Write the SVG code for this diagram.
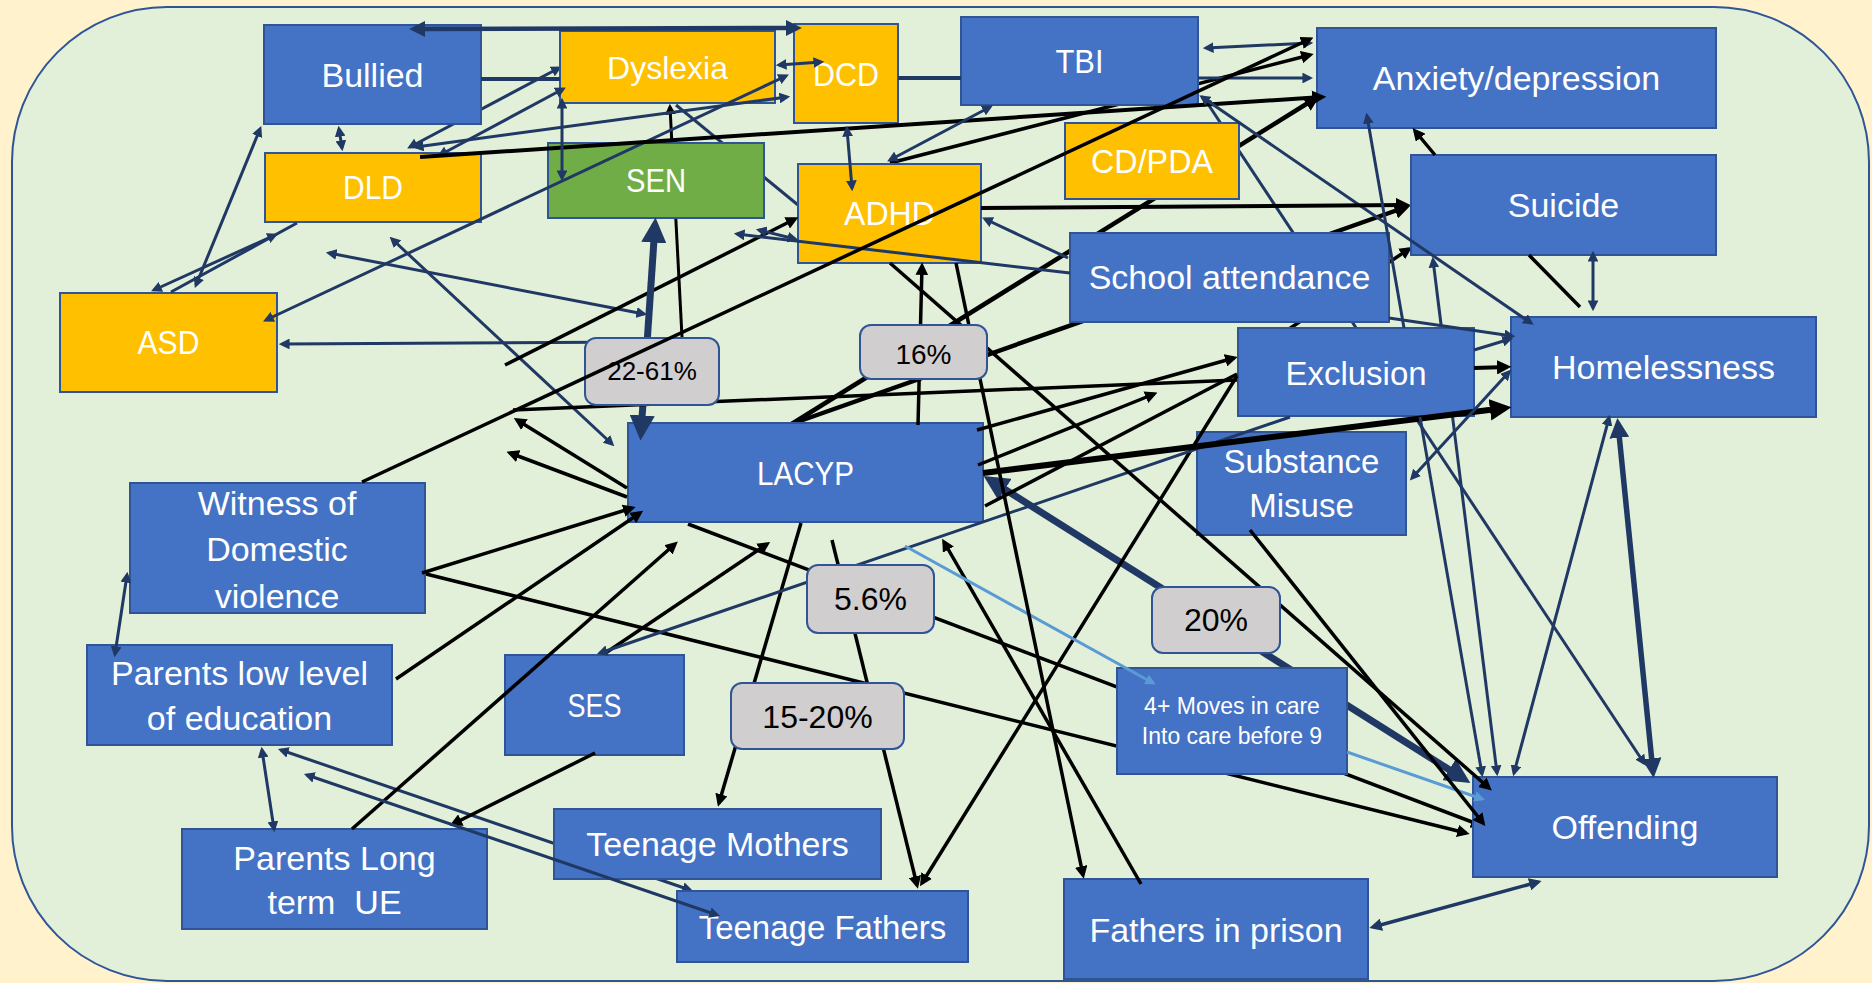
<svg xmlns="http://www.w3.org/2000/svg" width="1872" height="983" viewBox="0 0 1872 983">
<style>
.bx{fill:#4472C4;stroke:#2F5597;stroke-width:2}
.yl{fill:#FFC000;stroke:#2F5597;stroke-width:2}
.gr{fill:#70AD47;stroke:#2F5597;stroke-width:2}
.lb{fill:#D0CECE;stroke:#2F5597;stroke-width:2}
.t{font-family:"Liberation Sans",Arial,sans-serif;font-size:34px;fill:#fff;text-anchor:middle}
.c{font-size:34px}
.s{font-size:23px}
.p{fill:#000}
.n{stroke:#203864;stroke-width:3;fill:none}
.k{stroke:#000;stroke-width:3.5;fill:none}
.l{stroke:#5B9BD5;stroke-width:3;fill:none}
.w4{stroke-width:4.5}
.w5{stroke-width:5.5}
.w7{stroke-width:7}
.ne{marker-end:url(#an)}
.nb{marker-start:url(#an);marker-end:url(#an)}
.ke{marker-end:url(#ak)}
.le{marker-end:url(#al)}
</style>
<defs>
<marker id="an" viewBox="0 0 10 10" refX="7" refY="5" markerWidth="3.6" markerHeight="3.6" orient="auto-start-reverse" markerUnits="strokeWidth"><path d="M0,0L10,5L0,10z" fill="#203864"/></marker>
<marker id="ak" viewBox="0 0 10 10" refX="7" refY="5" markerWidth="3.6" markerHeight="3.6" orient="auto-start-reverse" markerUnits="strokeWidth"><path d="M0,0L10,5L0,10z" fill="#000"/></marker>
<marker id="al" viewBox="0 0 10 10" refX="7" refY="5" markerWidth="3.6" markerHeight="3.6" orient="auto-start-reverse" markerUnits="strokeWidth"><path d="M0,0L10,5L0,10z" fill="#5B9BD5"/></marker>
</defs>

<!-- page and panel -->
<rect x="0" y="0" width="1872" height="983" fill="#FFF2CC"/>
<rect x="12" y="7" width="1857" height="974" rx="155" ry="155" fill="#E2F0D9" stroke="#2F5597" stroke-width="2"/>

<!-- connectors that run beneath the boxes -->
<g id="edges-under">
<line class="n nb" x1="410" y1="147" x2="559" y2="68"/>
<line class="n" x1="676" y1="105" x2="798" y2="205"/>
<line class="k ke" style="stroke-width:3" x1="682" y1="337" x2="670" y2="107"/>
<line class="k ke" x1="890" y1="163" x2="1310" y2="55"/>
<line class="k ke w4" x1="790" y1="425" x2="1316" y2="98"/>
<line class="k ke w4" x1="783" y1="427" x2="1406" y2="207"/>
<line class="n nb" x1="1204" y1="98" x2="1644" y2="763"/>
<line class="n nb" x1="1433" y1="260" x2="1497" y2="773"/>
<line class="k ke" x1="688" y1="524" x2="1480" y2="825"/>
<line class="k ke" x1="422" y1="573" x2="1466" y2="833"/>
<line class="n nb w7" x1="990" y1="480" x2="1464" y2="779"/>
<line class="k ke" x1="1250" y1="355" x2="1409" y2="249"/>
<line class="n nb" x1="281" y1="750" x2="690" y2="890"/>
</g>

<!-- boxes -->
<g id="node-bullied"><rect class="bx" x="264" y="25" width="217" height="99"/><text class="t" x="372.5" y="87">Bullied</text></g>
<g id="node-dyslexia"><rect class="yl" x="560" y="31" width="215" height="72"/><text class="t" style="font-size:32px" x="667.5" y="79">Dyslexia</text></g>
<g id="node-dcd"><rect class="yl" x="794" y="24" width="104" height="99"/><text class="t c" x="846" y="86" textLength="66" lengthAdjust="spacingAndGlyphs">DCD</text></g>
<g id="node-tbi"><rect class="bx" x="961" y="17" width="237" height="88"/><text class="t c" x="1079.5" y="73" textLength="48" lengthAdjust="spacingAndGlyphs">TBI</text></g>
<g id="node-anxiety"><rect class="bx" x="1317" y="28" width="399" height="100"/><text class="t" x="1516.5" y="90">Anxiety/depression</text></g>
<g id="node-sen"><rect class="gr" x="548" y="143" width="216" height="75"/><text class="t c" x="656" y="192" textLength="60" lengthAdjust="spacingAndGlyphs">SEN</text></g>
<g id="node-dld"><rect class="yl" x="265" y="153" width="216" height="69"/><text class="t c" x="373" y="199" textLength="60" lengthAdjust="spacingAndGlyphs">DLD</text></g>
<g id="node-adhd"><rect class="yl" x="798" y="164" width="183" height="99"/><text class="t c" x="889.5" y="225" textLength="91" lengthAdjust="spacingAndGlyphs">ADHD</text></g>
<g id="node-cdpda"><rect class="yl" x="1065" y="123" width="174" height="76"/><text class="t c" x="1152" y="173" textLength="122" lengthAdjust="spacingAndGlyphs">CD/PDA</text></g>
<g id="node-suicide"><rect class="bx" x="1411" y="155" width="305" height="100"/><text class="t" x="1563.5" y="217">Suicide</text></g>
<g id="node-school"><rect class="bx" x="1070" y="233" width="319" height="89"/><text class="t" x="1229.5" y="289">School attendance</text></g>
<g id="node-asd"><rect class="yl" x="60" y="293" width="217" height="99"/><text class="t c" x="168.5" y="354" textLength="62" lengthAdjust="spacingAndGlyphs">ASD</text></g>
<g id="node-homelessness"><rect class="bx" x="1511" y="317" width="305" height="100"/><text class="t" x="1663.5" y="379">Homelessness</text></g>
<g id="node-exclusion"><rect class="bx" x="1238" y="328" width="236" height="88"/><text class="t" style="font-size:33px" x="1356" y="385">Exclusion</text></g>
<g id="node-substance"><rect class="bx" x="1197" y="432" width="209" height="103"/><text class="t" style="font-size:33px" x="1301.5" y="473">Substance</text><text class="t" style="font-size:33px" x="1301.5" y="517">Misuse</text></g>
<g id="node-lacyp"><rect class="bx" x="628" y="423" width="355" height="99"/><text class="t c" x="805.5" y="485" textLength="97" lengthAdjust="spacingAndGlyphs">LACYP</text></g>
<g id="node-witness"><rect class="bx" x="130" y="483" width="295" height="130"/><text class="t" x="277" y="515">Witness of</text><text class="t" x="277" y="561">Domestic</text><text class="t" x="277" y="608">violence</text></g>
<g id="node-parents-education"><rect class="bx" x="87" y="645" width="305" height="100"/><text class="t" x="239.5" y="685">Parents low level</text><text class="t" x="239.5" y="730">of education</text></g>
<g id="node-ses"><rect class="bx" x="505" y="655" width="179" height="100"/><text class="t c" x="594.5" y="717" textLength="54" lengthAdjust="spacingAndGlyphs">SES</text></g>
<g id="node-parents-ue"><rect class="bx" x="182" y="829" width="305" height="100"/><text class="t" x="334.5" y="870">Parents Long</text><text class="t" x="334.5" y="914" xml:space="preserve" style="white-space:pre">term  UE</text></g>
<g id="node-teen-mothers"><rect class="bx" x="554" y="809" width="327" height="70"/><text class="t" x="717.5" y="856">Teenage Mothers</text></g>
<g id="node-teen-fathers"><rect class="bx" x="677" y="891" width="291" height="71"/><text class="t" style="font-size:33px" x="822.5" y="939">Teenage Fathers</text></g>
<g id="node-fathers-prison"><rect class="bx" x="1064" y="879" width="304" height="100"/><text class="t" x="1216" y="942">Fathers in prison</text></g>
<g id="node-moves"><rect class="bx" x="1117" y="668" width="230" height="106"/><text class="t s" x="1232" y="714">4+ Moves in care</text><text class="t s" x="1232" y="744">Into care before 9</text></g>
<g id="node-offending"><rect class="bx" x="1473" y="777" width="304" height="100"/><text class="t" x="1625" y="839">Offending</text></g>

<!-- connectors drawn over the boxes -->
<g id="edges">
<line class="n nb w4" x1="414" y1="29" x2="797" y2="28"/>
<line class="n" style="stroke-width:4" x1="481" y1="79" x2="560" y2="79"/>
<line class="n nb" x1="440" y1="155" x2="563" y2="89"/>
<line class="n nb" x1="416" y1="147" x2="787" y2="97"/>
<line class="n nb" x1="266" y1="320" x2="786" y2="76"/>
<line class="k ke" style="stroke-width:4" x1="420" y1="157" x2="1322" y2="97"/>
<line class="n nb" x1="339" y1="129" x2="342" y2="148"/>
<line class="n nb" x1="562" y1="101" x2="562" y2="178"/>
<line class="n nb" x1="196" y1="285" x2="260" y2="129"/>
<line class="n nb" x1="154" y1="290" x2="275" y2="235"/>
<line class="n" x1="171" y1="292" x2="297" y2="223"/>
<line class="n nb" x1="329" y1="253" x2="644" y2="314"/>
<line class="n nb" x1="392" y1="239" x2="612" y2="444"/>
<line class="n ne" x1="640" y1="342" x2="282" y2="344"/>
<line class="k ke" x1="505" y1="365" x2="795" y2="219"/>
<line class="n nb w7" x1="655" y1="225" x2="641" y2="433"/>
<line class="k" x1="513" y1="410" x2="1237" y2="380"/>
<line class="k ke" x1="627" y1="488" x2="517" y2="420"/>
<line class="k ke" x1="627" y1="497" x2="510" y2="453"/>
<line class="k ke" x1="422" y1="573" x2="632" y2="508"/>
<line class="k ke" x1="396" y1="679" x2="640" y2="513"/>
<line class="k ke" x1="352" y1="829" x2="675" y2="544"/>
<line class="k ke" x1="607" y1="652" x2="767" y2="544"/>
<line class="k ke" x1="595" y1="753" x2="453" y2="824"/>
<line class="n nb" x1="127" y1="575" x2="115" y2="654"/>
<line class="n nb" x1="262" y1="750" x2="274" y2="829"/>
<line class="n nb" x1="307" y1="775" x2="717" y2="915"/>
<line class="k ke" x1="801" y1="523" x2="719" y2="803"/>
<line class="k ke" x1="832" y1="540" x2="917" y2="885"/>
<line class="k ke" x1="1237" y1="376" x2="922" y2="883"/>
<line class="k ke" x1="1141" y1="884" x2="944" y2="542"/>
<line class="n ne" x1="1290" y1="417" x2="600" y2="653"/>
<line class="l le" x1="905" y1="546" x2="1153" y2="683"/>
<line class="l le" x1="1347" y1="752" x2="1482" y2="799"/>
<line class="k ke" x1="977" y1="430" x2="1234" y2="358"/>
<line class="k ke" x1="978" y1="465" x2="1154" y2="394"/>
<line class="k" x1="985" y1="506" x2="1237" y2="374"/>
<line class="k ke" style="stroke-width:6" x1="983" y1="473" x2="1505" y2="408"/>
<line class="k ke" style="stroke-width:4" x1="1474" y1="368" x2="1507" y2="367"/>
<line class="n ne" x1="1474" y1="350" x2="1510" y2="339"/>
<line class="n ne" x1="1389" y1="318" x2="1512" y2="336"/>
<line class="n nb" x1="1412" y1="478" x2="1509" y2="372"/>
<line class="n nb" x1="1609" y1="418" x2="1514" y2="773"/>
<line class="n nb w5" x1="1618" y1="424" x2="1653" y2="772"/>
<line class="n nb" x1="1593" y1="254" x2="1593" y2="308"/>
<line class="k" x1="1529" y1="255" x2="1580" y2="307"/>
<line class="k ke" x1="1435" y1="155" x2="1415" y2="131"/>
<line class="n nb" x1="1206" y1="48" x2="1310" y2="43"/>
<line class="n ne" x1="1198" y1="78" x2="1310" y2="78"/>
<line class="n nb" x1="1202" y1="97" x2="1531" y2="323"/>
<line class="k ke" style="stroke-width:4" x1="981" y1="208" x2="1406" y2="205"/>
<line class="n ne" x1="1068" y1="258" x2="985" y2="219"/>
<line class="n ne" x1="1070" y1="273" x2="737" y2="234"/>
<line class="n nb" x1="759" y1="230" x2="795" y2="239"/>
<line class="n nb" x1="847" y1="129" x2="852" y2="188"/>
<line class="n nb" x1="990" y1="107" x2="890" y2="160"/>
<line class="n nb" x1="779" y1="65" x2="821" y2="62"/>
<line class="n" style="stroke-width:4" x1="898" y1="78" x2="961" y2="78"/>
<line class="k ke" x1="918" y1="425" x2="922" y2="266"/>
<line class="k ke" x1="1250" y1="530" x2="1483" y2="823"/>
<line class="n nb" style="stroke-width:3.5" x1="1538" y1="882" x2="1373" y2="927"/>
<line class="n ne" x1="1404" y1="328" x2="1367" y2="116"/>
<line class="n ne" x1="1420" y1="417" x2="1482" y2="774"/>
<line class="k ke" x1="890" y1="263" x2="1489" y2="788"/>
<line class="k ke" x1="956" y1="263" x2="1083" y2="875"/>
</g>

<!-- percentage tags -->
<g id="tag-22-61"><rect class="lb" x="585" y="338" width="134" height="67" rx="11"/><text class="t p" style="font-size:26px" x="652" y="380">22-61%</text></g>
<g id="tag-16"><rect class="lb" x="860" y="325" width="127" height="54" rx="11"/><text class="t p" style="font-size:28px" x="923.5" y="364">16%</text></g>
<g id="tag-5-6"><rect class="lb" x="807" y="565" width="127" height="68" rx="11"/><text class="t p" style="font-size:32px" x="870.5" y="610">5.6%</text></g>
<g id="tag-15-20"><rect class="lb" x="731" y="683" width="173" height="66" rx="11"/><text class="t p" style="font-size:32px" x="817.5" y="728">15-20%</text></g>
<g id="tag-20"><rect class="lb" x="1152" y="587" width="128" height="66" rx="11"/><text class="t p" style="font-size:32px" x="1216" y="631">20%</text></g>

<!-- connector crossing over the tags -->
<g id="edges-top">
<line class="k ke" x1="362" y1="482" x2="1310" y2="39"/>
</g>
</svg>
